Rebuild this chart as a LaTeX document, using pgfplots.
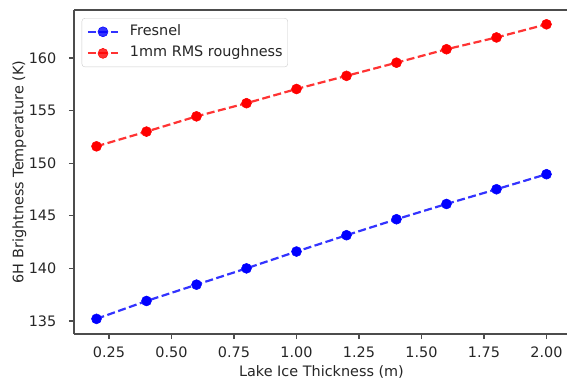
\documentclass[border=0pt]{standalone}
\usepackage{fontspec}
\setmainfont{DejaVu Sans}
\usepackage{pgfplots}
\pgfplotsset{compat=1.18}
\usetikzlibrary{calc}
\newcommand{\fs}{\fontsize{14.4bp}{17bp}\selectfont}
\begin{document}
\begin{tikzpicture}
\begin{axis}[
  scale only axis,
  width=493bp, height=324bp,
  xmin=0.11, xmax=2.082,
  ymin=133.76, ymax=164.56,
  axis x line=box, axis y line=left,
  axis line style={-, line width=1.1bp, black!70},
  xtick={0.25,0.5,0.75,1,1.25,1.5,1.75,2},
  ytick={135,140,145,150,155,160},
  xtick pos=left, ytick pos=left,
  tick align=outside,
  major tick length=5bp,
  tick style={line width=1.1bp, black!70},
  x tick label style={/pgf/number format/fixed, /pgf/number format/fixed zerofill, /pgf/number format/precision=2, /pgf/number format/assume math mode=true},
  y tick label style={/pgf/number format/fixed, /pgf/number format/assume math mode=true},
  tick label style={font=\fs, text=black!85, inner sep=0pt},
  x tick label style={anchor=base, yshift=-18.5bp},
  y tick label style={anchor=east, xshift=-12.5bp},
  label style={font=\fs, text=black!85, inner sep=0pt},
  xlabel={Lake Ice Thickness (m)},
  ylabel={6H Brightness Temperature (K)},
  xlabel style={at={($(rel axis cs:0.5,0)+(1bp,-42.5bp)$)}, anchor=base},
  ylabel style={at={($(rel axis cs:0,0.5)+(-50.7bp,0)$)}, anchor=base},
  legend cell align=left,
  legend style={at={(0.0156,0.975)}, anchor=north west, draw=black!20, rounded corners=3bp,
    fill=white, fill opacity=0.8, text opacity=1, font=\fs, text=black!85, row sep=7.6bp,
    inner xsep=5bp, inner ysep=6.5bp,
    nodes={inner sep=0pt, text height=10.5bp, text depth=3.5bp}},
  legend image code/.code={
    \path[draw=none, fill=none] (0bp,-3bp) rectangle (42bp,3bp);
    \draw[mark repeat=2, mark phase=2, #1] plot coordinates {(0bp,0bp) (15bp,0bp) (30bp,0bp)};
  },
]
\addplot[blue, draw opacity=0.8, line width=2.2bp, dash pattern=on 8bp off 3.5bp, mark=*, mark size=5bp, mark options={solid, draw opacity=1, fill=blue, line width=0.5bp}]
coordinates {(0.2,135.2) (0.4,136.9) (0.6,138.45) (0.8,140.0) (1.0,141.6) (1.2,143.15) (1.4,144.67) (1.6,146.12) (1.8,147.52) (2.0,148.95)};
\addlegendentry{Fresnel}
\addplot[red, draw opacity=0.8, line width=2.2bp, dash pattern=on 8bp off 3.5bp, mark=*, mark size=5bp, mark options={solid, draw opacity=1, fill=red, line width=0.5bp}]
coordinates {(0.2,151.6) (0.4,153.0) (0.6,154.45) (0.8,155.7) (1.0,157.05) (1.2,158.3) (1.4,159.55) (1.6,160.83) (1.8,161.95) (2.0,163.2)};
\addlegendentry{1mm RMS roughness}
\end{axis}
\path (current axis.south west) ++(-74bp,-46bp) coordinate (bbsw);
\path (current axis.north east) ++(0bp,10bp) coordinate (bbne);
\pgfresetboundingbox
\path[use as bounding box] (bbsw) rectangle (bbne);
\end{tikzpicture}
\end{document}
